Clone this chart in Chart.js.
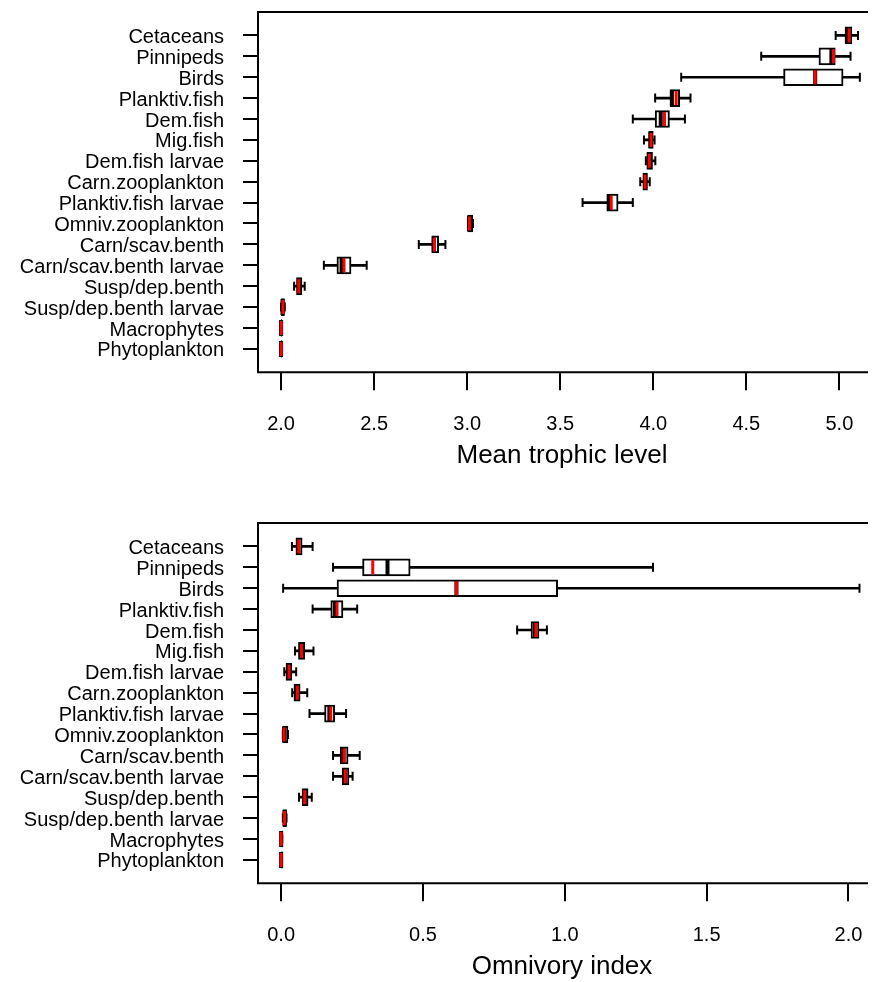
<!DOCTYPE html>
<html>
<head>
<meta charset="utf-8">
<title>Trophic level and omnivory index</title>
<script src="https://cdn.jsdelivr.net/npm/chart.js@4/dist/chart.umd.min.js"></script>
<style>
  html, body { margin: 0; padding: 0; background: #fff; overflow: hidden; }
  .panel { position: relative; width: 878px; }
  #topPanel { height: 511px; }
  #bottomPanel { height: 471px; }
</style>
</head>
<body>
<div class="panel" id="topPanel"><canvas id="tlChart"></canvas></div>
<div class="panel" id="bottomPanel"><canvas id="oiChart"></canvas></div>
<script>
// groups, listed top to bottom as in the figure
const groups = [
  "Cetaceans", "Pinnipeds", "Birds", "Planktiv.fish", "Dem.fish", "Mig.fish",
  "Dem.fish larvae", "Carn.zooplankton", "Planktiv.fish larvae", "Omniv.zooplankton",
  "Carn/scav.benth", "Carn/scav.benth larvae", "Susp/dep.benth",
  "Susp/dep.benth larvae", "Macrophytes", "Phytoplankton"
];

// mean trophic level
const tlTicks = [2.0, 2.5, 3.0, 3.5, 4.0, 4.5, 5.0];
const tlMin  = [4.98, 4.58, 4.15, 4.01, 3.89, 3.95, 3.96, 3.93, 3.62, 3.004, 2.74, 2.23, 2.07, 2.0, 2.0, 2.0];
const tlQ1   = [5.03, 4.89, 4.70, 4.09, 4.01, 3.975, 3.965, 3.944, 3.75, 3.004, 2.81, 2.30, 2.083, 2.0, 2.0, 2.0];
const tlMed  = [5.045, 4.957, 4.87, 4.10, 4.04, 3.985, 3.978, 3.955, 3.765, 3.01, 2.82, 2.325, 2.095, 2.008, 2.0, 2.0];
const tlQ3   = [5.067, 4.978, 5.02, 4.142, 4.087, 4.0, 3.996, 3.969, 3.811, 3.03, 2.847, 2.376, 2.112, 2.018, 2.004, 2.002];
const tlMax  = [5.10, 5.06, 5.11, 4.20, 4.17, 4.007, 4.011, 3.981, 3.89, 3.031, 2.883, 2.46, 2.127, 2.02, 2.005, 2.003];
const tlMean = [5.052, 4.968, 4.87, 4.123, 4.06, 3.988, 3.979, 3.956, 3.774, 3.012, 2.824, 2.338, 2.095, 2.01, 2.001, 2.001];

// omnivory index
const oiTicks = [0.0, 0.5, 1.0, 1.5, 2.0];
const oiMin  = [0.038, 0.183, 0.007, 0.111, 0.832, 0.049, 0.011, 0.039, 0.100, 0.006, 0.183, 0.183, 0.063, 0.006, 0.0, 0.0];
const oiQ1   = [0.052, 0.287, 0.197, 0.175, 0.881, 0.061, 0.017, 0.045, 0.153, 0.006, 0.208, 0.215, 0.074, 0.006, 0.0, 0.0];
const oiMed  = [0.060, 0.375, 0.618, 0.190, 0.895, 0.070, 0.028, 0.055, 0.170, 0.010, 0.220, 0.225, 0.083, 0.012, 0.0, 0.0];
const oiQ3   = [0.074, 0.455, 0.975, 0.218, 0.909, 0.083, 0.038, 0.067, 0.189, 0.024, 0.236, 0.239, 0.095, 0.019, 0.004, 0.002];
const oiMax  = [0.111, 1.311, 2.039, 0.268, 0.937, 0.114, 0.053, 0.092, 0.229, 0.024, 0.277, 0.252, 0.108, 0.019, 0.004, 0.002];
const oiMean = [0.062, 0.323, 0.618, 0.197, 0.898, 0.072, 0.028, 0.057, 0.175, 0.010, 0.222, 0.226, 0.083, 0.012, 0.0, 0.0];

const N = groups.length;
const FONT = '"Liberation Sans", Arial, Helvetica, sans-serif';

Chart.defaults.font.family = FONT;
Chart.defaults.color = "#000";

// box frame (the right side is cut off in the original figure)
const framePlugin = {
  id: "frame",
  afterDraw(chart) {
    const { ctx, chartArea: a } = chart;
    ctx.save();
    ctx.strokeStyle = "#000";
    ctx.lineWidth = 2;
    ctx.beginPath();
    ctx.moveTo(a.right + 2, a.top);
    ctx.lineTo(a.left, a.top);
    ctx.lineTo(a.left, a.bottom);
    ctx.lineTo(a.right + 2, a.bottom);
    ctx.stroke();
    ctx.restore();
  }
};

function pos(i) {
  return N - i;
}

function ranges(lo, hi) {
  return groups.map((g, i) => ({ y: pos(i), x: [lo[i], hi[i]] }));
}

function points(vals) {
  return groups.map((g, i) => ({ x: vals[i], y: pos(i) }));
}

function makePanel(canvasId, s, xMin, xMax, xTicks, title, bottomPad) {
  return new Chart(document.getElementById(canvasId), {
    type: "bar",
    data: {
      datasets: [
        {
          label: "mean",
          type: "scatter",
          data: points(s.mean),
          pointStyle: "line",
          pointRotation: 90,
          pointRadius: 7,
          pointBorderWidth: 3,
          pointBorderColor: "#ff0000",
          order: 0
        },
        {
          label: "median",
          type: "scatter",
          data: points(s.med),
          pointStyle: "line",
          pointRotation: 90,
          pointRadius: 8,
          pointBorderWidth: 4,
          pointBorderColor: "#000",
          order: 1
        },
        {
          label: "box",
          data: ranges(s.q1, s.q3),
          backgroundColor: "#fff",
          borderColor: "#000",
          borderWidth: 2,
          borderSkipped: false,
          barThickness: 17,
          grouped: false,
          order: 2
        },
        {
          label: "staples",
          type: "scatter",
          data: points(s.min).concat(points(s.max)),
          pointStyle: "line",
          pointRotation: 90,
          pointRadius: 4.5,
          pointBorderWidth: 2,
          pointBorderColor: "#000",
          order: 3
        },
        {
          label: "whiskers",
          data: ranges(s.min, s.max),
          backgroundColor: "#000",
          barThickness: 2,
          grouped: false,
          order: 4
        }
      ]
    },
    options: {
      indexAxis: "y",
      responsive: true,
      maintainAspectRatio: false,
      animation: false,
      events: [],
      layout: { padding: { top: 8, right: 0, bottom: bottomPad, left: 0 } },
      plugins: {
        legend: { display: false },
        tooltip: { enabled: false }
      },
      scales: {
        x: {
          type: "linear",
          min: xMin,
          max: xMax,
          offset: false,
          border: { display: false },
          grid: {
            offset: false,
            drawOnChartArea: false,
            color: "#000",
            lineWidth: 2,
            tickLength: 18
          },
          ticks: {
            autoSkip: false,
            maxRotation: 0,
            padding: 22,
            font: { size: 20 },
            callback: v => v.toFixed(1)
          },
          afterBuildTicks: sc => { sc.ticks = xTicks.map(v => ({ value: v })); },
          afterFit: sc => {
            sc.height = 98.7;
            sc.paddingLeft = 0;
            sc.paddingRight = 0;
          },
          title: {
            display: true,
            text: title,
            font: { size: 26 },
            padding: { top: 0, bottom: 0 }
          }
        },
        y: {
          type: "linear",
          min: -0.12,
          max: N + 1.12,
          offset: false,
          border: { display: false },
          grid: {
            offset: false,
            drawOnChartArea: false,
            color: "#000",
            lineWidth: 2,
            tickLength: 15
          },
          ticks: {
            autoSkip: false,
            padding: 19,
            labelOffset: 2,
            font: { size: 20 },
            callback: v => groups[N - v]
          },
          afterBuildTicks: sc => { sc.ticks = groups.map((g, i) => ({ value: pos(i) })); },
          afterFit: sc => {
            sc.width = 258;
            sc.paddingTop = 0;
            sc.paddingBottom = 0;
          }
        }
      }
    },
    plugins: [framePlugin]
  });
}

makePanel("tlChart",
  { min: tlMin, q1: tlQ1, med: tlMed, q3: tlQ3, max: tlMax, mean: tlMean },
  1.876, 5.143, tlTicks, "Mean trophic level", 40);

makePanel("oiChart",
  { min: oiMin, q1: oiQ1, med: oiMed, q3: oiQ3, max: oiMax, mean: oiMean },
  -0.0816, 2.062, oiTicks, "Omnivory index", 0);
</script>
</body>
</html>
